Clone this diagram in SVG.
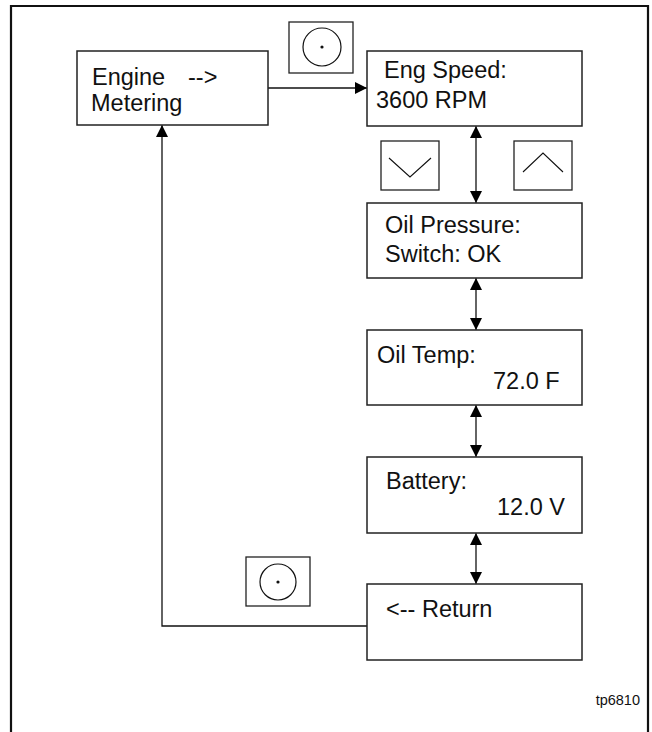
<svg xmlns="http://www.w3.org/2000/svg" width="652" height="732" viewBox="0 0 652 732">
<defs>
<marker id="ah" viewBox="0 0 10 12" refX="12" refY="6" markerWidth="12" markerHeight="12" markerUnits="userSpaceOnUse" orient="auto-start-reverse">
<path d="M0,0 L12,6 L0,12 Z" fill="#000"/>
</marker>
</defs>
<style>
.box{fill:#fff;stroke:#222;stroke-width:1.5}
.btn{fill:#fff;stroke:#222;stroke-width:1.3}
.t{font-family:"Liberation Sans",Arial,sans-serif;font-size:23.5px;fill:#111}
.c{fill:none;stroke:#111;stroke-width:1.3}
</style>
<rect width="652" height="732" fill="#fff"/>
<path d="M11,732 L11,6 L648,6 L648,732" fill="none" stroke="#111" stroke-width="2.2"/>
<g id="connectors">
<path class="c" d="M268,88 L367,88" marker-end="url(#ah)"/>
<path class="c" d="M476,126 L476,203" marker-start="url(#ah)" marker-end="url(#ah)"/>
<path class="c" d="M476,278 L476,330" marker-start="url(#ah)" marker-end="url(#ah)"/>
<path class="c" d="M476,405 L476,457" marker-start="url(#ah)" marker-end="url(#ah)"/>
<path class="c" d="M476,533 L476,584" marker-start="url(#ah)" marker-end="url(#ah)"/>
<path class="c" d="M367,626 L162,626 L162,125" marker-end="url(#ah)"/>
</g>
<g id="engine-metering">
<rect class="box" x="77" y="51" width="191" height="74"/>
<text class="t" x="92" y="85">Engine</text>
<text class="t" x="188" y="85">--&gt;</text>
<text class="t" x="91" y="111">Metering</text>
</g>
<g id="select-button-top">
<rect class="btn" x="289" y="22" width="64" height="51"/>
<circle cx="322" cy="47" r="19" fill="none" stroke="#111" stroke-width="1.2"/>
<circle cx="322" cy="47" r="1.6" fill="#111"/>
</g>
<g id="eng-speed">
<rect class="box" x="367" y="51" width="215" height="75"/>
<text class="t" x="384" y="78">Eng Speed:</text>
<text class="t" x="376" y="108">3600 RPM</text>
</g>
<g id="down-button">
<rect class="btn" x="381" y="141" width="58" height="49"/>
<path d="M389,158 L410,177 L431,158" fill="none" stroke="#111" stroke-width="1.1"/>
</g>
<g id="up-button">
<rect class="btn" x="514" y="141" width="58" height="49"/>
<path d="M523,172 L543,153 L563,172" fill="none" stroke="#111" stroke-width="1.1"/>
</g>
<g id="oil-pressure">
<rect class="box" x="367" y="203" width="215" height="75"/>
<text class="t" x="385" y="233">Oil Pressure:</text>
<text class="t" x="385" y="262">Switch: OK</text>
</g>
<g id="oil-temp">
<rect class="box" x="367" y="330" width="215" height="75"/>
<text class="t" x="377" y="363">Oil Temp:</text>
<text class="t" x="493" y="389">72.0 F</text>
</g>
<g id="battery">
<rect class="box" x="367" y="457" width="215" height="76"/>
<text class="t" x="386" y="489">Battery:</text>
<text class="t" x="497" y="515">12.0 V</text>
</g>
<g id="select-button-bottom">
<rect class="btn" x="246" y="557" width="64" height="49"/>
<circle cx="278" cy="582" r="18" fill="none" stroke="#111" stroke-width="1.2"/>
<circle cx="278" cy="582" r="1.6" fill="#111"/>
</g>
<g id="return">
<rect class="box" x="367" y="584" width="215" height="76"/>
<text class="t" x="386" y="617">&lt;-- Return</text>
</g>
<text x="640" y="705" text-anchor="end" font-family="Liberation Sans,Arial,sans-serif" font-size="14.5" fill="#111">tp6810</text>
</svg>
